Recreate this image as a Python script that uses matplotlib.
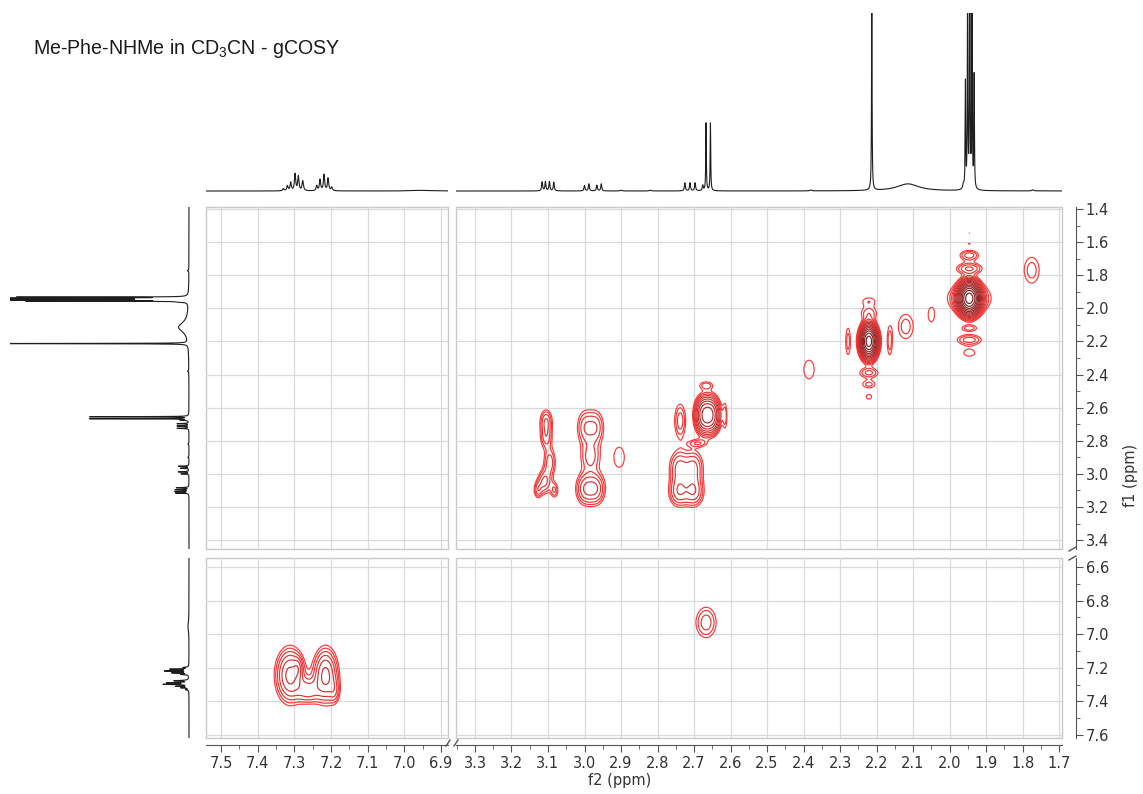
import numpy as np
import matplotlib
matplotlib.use("Agg")
import matplotlib.pyplot as plt
from matplotlib.patches import Rectangle
from matplotlib.lines import Line2D
from matplotlib.ticker import FixedLocator, MultipleLocator, FormatStrFormatter

plt.rcParams["font.family"] = ["DejaVu Sans"]
plt.rcParams["mathtext.fontset"] = "custom"
plt.rcParams["mathtext.rm"] = "Liberation Sans"

TITLE = "Me-Phe-NHMe in CD$_\\mathrm{3}$CN - gCOSY"

# 1H spectrum: line positions (ppm), relative heights, half widths (ppm)
H1_SHIFT = [7.330, 7.319, 7.310, 7.298, 7.289, 7.277, 7.239, 7.230, 7.219, 7.208, 7.198,
            6.950,
            3.116, 3.107, 3.096, 3.084, 3.000, 2.988, 2.966, 2.954, 2.900, 2.820,
            2.725, 2.711, 2.697, 2.676, 2.667, 2.655,
            2.380, 2.213, 2.114,
            1.962, 1.9565, 1.9505, 1.9445, 1.9385, 1.9325, 1.772]
H1_HEIGHT = [0.012, 0.028, 0.047, 0.094, 0.080, 0.055, 0.028, 0.062, 0.090, 0.070, 0.020,
             0.004,
             0.050, 0.052, 0.052, 0.048, 0.030, 0.040, 0.032, 0.040, 0.004, 0.004,
             0.045, 0.045, 0.045, 0.030, 0.380, 0.380,
             0.005, 1.000, 0.040,
             0.025, 0.600, 1.300, 1.600, 1.300, 0.640, 0.006]
H1_HWHM = [0.0022, 0.0020, 0.0020, 0.0020, 0.0020, 0.0022, 0.0020, 0.0020, 0.0020, 0.0020, 0.0022,
           0.030,
           0.0016, 0.0016, 0.0016, 0.0016, 0.0016, 0.0016, 0.0016, 0.0016, 0.003, 0.003,
           0.0016, 0.0016, 0.0016, 0.0016, 0.0009, 0.0009,
           0.003, 0.0009, 0.036,
           0.002, 0.0008, 0.0008, 0.0008, 0.0008, 0.0008, 0.003]

# COSY peaks: f2 / f1 centres (ppm), widths (ppm), intensity
XPK_F2 = [1.946, 1.946, 1.946, 1.946, 1.946, 1.946, 1.946, 1.946, 1.946,
          2.221, 2.278, 2.164, 2.221, 2.221, 2.221, 2.221, 2.221,
          2.120, 2.050, 1.775, 2.385, 2.905,
          2.674, 2.652, 2.674, 2.652, 2.667, 2.615,
          2.738, 2.690, 2.742, 2.700, 2.742, 2.700,
          2.999, 2.968, 2.999, 2.968, 2.984,
          3.105, 3.105, 3.095, 3.110, 3.082, 3.128,
          7.312, 7.215, 7.262, 7.190, 7.290,
          2.667]
XPK_F1 = [1.940, 1.940, 1.545, 1.610, 1.680, 1.760, 2.120, 2.190, 2.270,
          2.200, 2.200, 2.200, 1.956, 2.030, 2.390, 2.460, 2.535,
          2.110, 2.040, 1.770, 2.370, 2.900,
          2.612, 2.612, 2.678, 2.678, 2.465, 2.650,
          2.680, 2.815, 2.960, 2.960, 3.110, 3.110,
          2.720, 2.720, 3.090, 3.090, 2.900,
          2.680, 2.780, 2.930, 3.050, 3.100, 3.100,
          7.245, 7.245, 7.340, 7.340, 7.200,
          6.930]
XPK_W2 = [0.0147, 0.040, 0.003, 0.004, 0.020, 0.025, 0.019, 0.026, 0.022,
          0.012, 0.0066, 0.0066, 0.021, 0.020, 0.021, 0.018, 0.012,
          0.021, 0.012, 0.021, 0.021, 0.021,
          0.0138, 0.0138, 0.0138, 0.0138, 0.016, 0.005,
          0.012, 0.020, 0.018, 0.018, 0.018, 0.018,
          0.016, 0.016, 0.017, 0.017, 0.020,
          0.012, 0.012, 0.012, 0.013, 0.008, 0.008,
          0.024, 0.021, 0.020, 0.010, 0.008,
          0.022]
XPK_W1 = [0.047, 0.060, 0.004, 0.005, 0.024, 0.024, 0.016, 0.024, 0.028,
          0.050, 0.082, 0.082, 0.027, 0.031, 0.024, 0.021, 0.022,
          0.075, 0.060, 0.080, 0.084, 0.090,
          0.052, 0.052, 0.052, 0.052, 0.020, 0.070,
          0.080, 0.018, 0.070, 0.070, 0.060, 0.060,
          0.075, 0.075, 0.065, 0.065, 0.060,
          0.050, 0.050, 0.060, 0.050, 0.035, 0.035,
          0.100, 0.100, 0.050, 0.050, 0.040,
          0.072]
XPK_AMP = [80.0, 3.0, 1.05, 1.12, 2.2, 2.6, 1.6, 2.2, 1.25,
           60.0, 1.6, 1.6, 1.25, 1.6, 2.0, 1.5, 1.2,
           1.6, 1.25, 1.6, 1.25, 1.25,
           6.0, 6.0, 6.0, 6.0, 1.6, 1.5,
           2.2, 1.6, 2.6, 2.6, 3.0, 3.0,
           2.2, 2.2, 3.0, 3.0, 2.0,
           2.4, 2.0, 2.2, 2.6, 1.8, 1.8,
           5.0, 5.0, 2.5, 1.5, 1.5,
           2.2]

F2_TICKS = [[7.5, 7.4, 7.3, 7.2, 7.1, 7.0, 6.9],
            [3.3, 3.2, 3.1, 3.0, 2.9, 2.8, 2.7, 2.6, 2.5, 2.4, 2.3, 2.2, 2.1, 2.0, 1.9, 1.8, 1.7]]
F1_TICKS = [[1.4, 1.6, 1.8, 2.0, 2.2, 2.4, 2.6, 2.8, 3.0, 3.2, 3.4],
            [6.6, 6.8, 7.0, 7.2, 7.4, 7.6]]

# axis windows (ppm) of the broken axes
F2_LIM = [(7.541, 6.881), (3.352, 1.692)]
F1_LIM = [(1.388, 3.454), (6.546, 7.618)]

W, H = 1143, 794
COL_PX = [(206, 448), (456, 1062)]
ROW_PX = [(207, 549), (558, 738)]
TOP_PX = (13, 194)
LEFT_PX = (10, 192)

fig = plt.figure(figsize=(W / 100, H / 100), dpi=100)


def pbox(x0, y0, x1, y1):
    return [x0 / W, 1 - y1 / H, (x1 - x0) / W, (y1 - y0) / H]


def spectrum(ppm):
    y = np.zeros_like(ppm)
    for s, h, w in zip(H1_SHIFT, H1_HEIGHT, H1_HWHM):
        y += h * w * w / ((ppm - s) ** 2 + w * w)
    return y


def cosy_map(g2, g1):
    z = np.zeros((g1.size, g2.size))
    for a, b, s2, s1, amp in zip(XPK_F2, XPK_F1, XPK_W2, XPK_W1, XPK_AMP):
        e2 = np.exp(-((g2 - a) ** 2) / (2 * s2 * s2))
        e1 = np.exp(-((g1 - b) ** 2) / (2 * s1 * s1))
        z += amp * np.outer(e1, e2)
    return z


LINE = "#1e1e1e"
AXC = "#555555"
GRID = "#d9d9d9"
FRAME = "#c9c9c9"

levels = 1.35 ** np.arange(16)
c0 = np.array([1.0, 0.22, 0.22])
c1 = np.array([0.45, 0.12, 0.12])
lev_colors = [tuple(c0 + (c1 - c0) * min(k / 14.0, 1.0)) for k in range(levels.size)]

# top projection (f2)
for c in range(2):
    ax = fig.add_axes(pbox(COL_PX[c][0], TOP_PX[0], COL_PX[c][1], TOP_PX[1]))
    x = np.arange(min(F2_LIM[c]), max(F2_LIM[c]), 0.0002)
    ax.plot(x, spectrum(x), color=LINE, lw=0.8)
    ax.set_xlim(*F2_LIM[c])
    ax.set_ylim(-3 / 178, 1.0)
    ax.axis("off")

# left projection (f1)
xmax = 0.69
for r in range(2):
    ax = fig.add_axes(pbox(LEFT_PX[0], ROW_PX[r][0], LEFT_PX[1], ROW_PX[r][1]))
    y = np.arange(min(F1_LIM[r]), max(F1_LIM[r]), 0.0002)
    ax.plot(spectrum(y), y, color=LINE, lw=0.8)
    ax.set_xlim(xmax, -xmax * 3 / 179)
    ax.set_ylim(F1_LIM[r][1], F1_LIM[r][0])
    ax.axis("off")

# 2D panels
for r in range(2):
    for c in range(2):
        ax = fig.add_axes(pbox(COL_PX[c][0], ROW_PX[r][0], COL_PX[c][1], ROW_PX[r][1]))
        n2 = int(abs(F2_LIM[c][0] - F2_LIM[c][1]) / 0.0015)
        n1 = int(abs(F1_LIM[r][0] - F1_LIM[r][1]) / 0.0025)
        g2 = np.linspace(min(F2_LIM[c]), max(F2_LIM[c]), n2)
        g1 = np.linspace(min(F1_LIM[r]), max(F1_LIM[r]), n1)
        z = cosy_map(g2, g1)
        if z.max() > levels[0]:
            ax.contour(g2, g1, z, levels=levels, colors=lev_colors, linewidths=0.85)
        ax.set_xlim(*F2_LIM[c])
        ax.set_ylim(F1_LIM[r][1], F1_LIM[r][0])
        for s in ax.spines.values():
            s.set_visible(False)
        ax.xaxis.set_major_locator(FixedLocator(F2_TICKS[c]))
        ax.yaxis.set_major_locator(FixedLocator(F1_TICKS[r]))
        ax.grid(True, which="major", color=GRID, lw=0.9)
        ax.set_axisbelow(True)
        ax.tick_params(which="both", length=0, labelbottom=False, labelleft=False)
        ax.add_patch(Rectangle((0, 0), 1, 1, transform=ax.transAxes, fill=False,
                               ec=FRAME, lw=1.0, clip_on=False, zorder=0.5))
        if r == 1:
            sp = ax.spines["bottom"]
            sp.set_visible(True)
            sp.set_position(("outward", 5))
            sp.set_color(AXC)
            ax.xaxis.set_minor_locator(MultipleLocator(0.05))
            ax.xaxis.set_major_formatter(FormatStrFormatter("%.1f"))
            ax.tick_params(axis="x", which="both", bottom=True, labelbottom=True,
                           direction="out", color=AXC, labelcolor="#333333",
                           labelsize=10.5, pad=3)
            ax.tick_params(axis="x", which="major", length=5)
            ax.tick_params(axis="x", which="minor", length=3)
        if c == 1:
            sp = ax.spines["right"]
            sp.set_visible(True)
            sp.set_position(("outward", 10))
            sp.set_color(AXC)
            ax.yaxis.set_minor_locator(MultipleLocator(0.1))
            ax.yaxis.set_major_formatter(FormatStrFormatter("%.1f"))
            ax.tick_params(axis="y", which="both", right=True, labelright=True,
                           left=False, labelleft=False, direction="out", color=AXC,
                           labelcolor="#333333", labelsize=10.5, pad=2)
            ax.tick_params(axis="y", which="major", length=5)
            ax.tick_params(axis="y", which="minor", length=3)


def seg(x0, y0, x1, y1):
    fig.add_artist(Line2D([x0 / W, x1 / W], [1 - y0 / H, 1 - y1 / H],
                          transform=fig.transFigure, color=AXC, lw=1.0))


# break marks on the axes
seg(446, 746, 450, 740)
seg(454, 746, 458, 740)
seg(1069, 551, 1076, 547)
seg(1069, 560, 1076, 556)

fig.text(33 / W, 1 - 54 / H, TITLE, fontsize=14.1, family="Liberation Sans",
         color="#1a1a1a", ha="left", va="baseline")
fig.text(620 / W, 1 - 781 / H, "f2 (ppm)", fontsize=10.5, color="#333333",
         ha="center", va="center")
fig.text(1131 / W, 1 - 475 / H, "f1 (ppm)", fontsize=10.5, color="#333333",
         ha="center", va="center", rotation=90)

fig.savefig("out.png", dpi=100)
